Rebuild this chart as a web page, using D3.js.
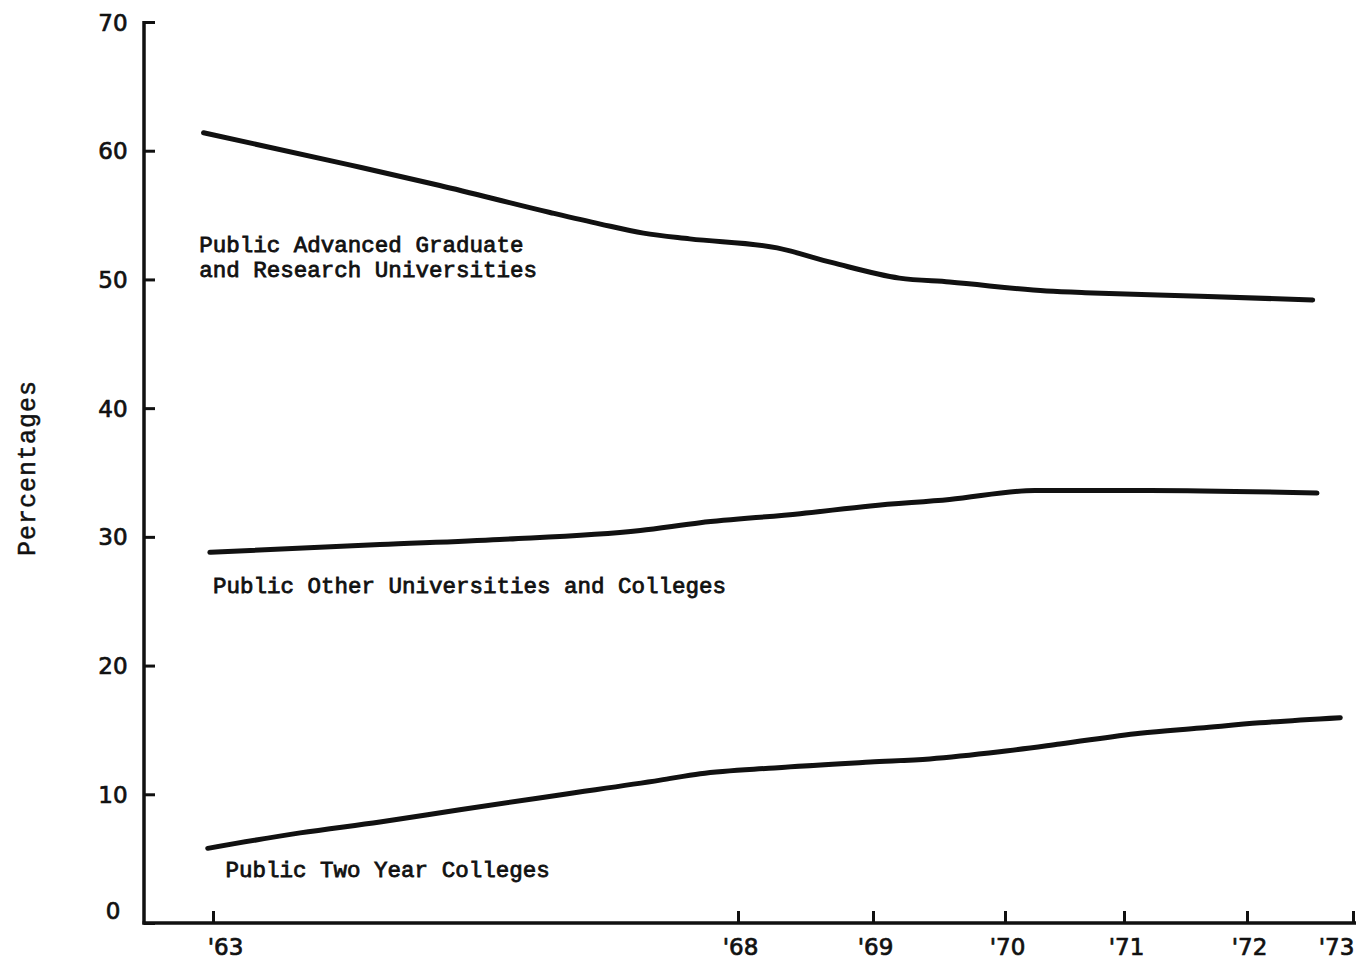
<!DOCTYPE html>
<html>
<head>
<meta charset="utf-8">
<script src="https://cdn.jsdelivr.net/npm/d3@7/dist/d3.min.js"></script>
<style>
  html, body { margin: 0; padding: 0; background: #fff; }
  svg { display: block; }
</style>
</head>
<body>
<svg id="chart" width="1360" height="959"></svg>
<script>
// ---------------- DATA ----------------
const yearTicks = [63, 68, 69, 70, 71, 72, 73];
const yearTickLabels = ["'63", "'68", "'69", "'70", "'71", "'72", "'73"];
const valueTicks = [0, 10, 20, 30, 40, 50, 60, 70];

// Public Advanced Graduate and Research Universities
const advYears  = [62.91, 64.30, 65.16, 66.21, 66.69, 67.10, 67.54, 68.29, 68.70, 69.20, 69.58, 70.35, 70.74, 71.62, 72.62];
const advValues = [61.4, 58.9, 57.3, 55.2, 54.3, 53.6, 53.15, 52.45, 51.3, 50.1, 49.8, 49.1, 48.95, 48.7, 48.4];

// Public Other Universities and Colleges
const othYears  = [62.97, 64.59, 65.73, 67.07, 67.64, 68.46, 68.98, 69.58, 70.25, 71.21, 72.66];
const othValues = [28.8, 29.4, 29.8, 30.5, 31.1, 31.8, 32.4, 32.9, 33.6, 33.6, 33.4];

// Public Two Year Colleges
const twoYears  = [62.95, 63.83, 64.59, 65.35, 66.30, 67.26, 67.64, 68.27, 68.98, 69.43, 69.96, 70.46, 71.13, 71.62, 72.12, 72.88];
const twoValues = [5.8, 7.0, 7.85, 8.8, 9.95, 11.1, 11.6, 12.05, 12.5, 12.75, 13.3, 13.9, 14.75, 15.15, 15.55, 15.95];

const seriesNames = [
  ["Public Advanced Graduate", "and Research Universities"],
  ["Public Other Universities and Colleges"],
  ["Public Two Year Colleges"]
];
const yAxisTitle = "Percentages";

// ---------------- LAYOUT ----------------
const axisX = 144, axisY = 923, axisTop = 22, axisRight = 1356;
// hand-drawn (uneven) year spacing of the original graph
const yearPixelStops = [213, 738, 873, 1005, 1124, 1247, 1353];

const svg = d3.select("#chart");

const x = d3.scaleLinear().domain(yearTicks).range(yearPixelStops);
const y = d3.scaleLinear().domain([0, 70]).range([axisY, axisTop]);

const ink = "#111";
const typeFont = "'Liberation Mono', 'DejaVu Sans Mono', monospace";
const digitFont = "'DejaVu Sans', sans-serif";

// y axis
const yAxis = svg.append("g")
  .attr("transform", `translate(${axisX},0)`)
  .call(d3.axisLeft(y).tickValues(valueTicks).tickSize(-11).tickSizeOuter(0).tickPadding(0).tickFormat(d3.format("d")));
yAxis.select(".domain").remove();
yAxis.selectAll(".tick line").attr("stroke", ink).attr("stroke-width", 3);
yAxis.selectAll(".tick text")
  .attr("x", -31)
  .attr("dy", d => d === 0 ? "-0.2em" : "0.35em")
  .attr("text-anchor", "middle")
  .attr("fill", ink)
  .attr("stroke", ink)
  .attr("stroke-width", 0.7)
  .style("font-family", digitFont)
  .style("font-size", "23px");

// x axis
const xAxis = svg.append("g")
  .attr("transform", `translate(0,${axisY})`)
  .call(d3.axisBottom(x).tickValues(yearTicks).tickSize(-12).tickSizeOuter(0).tickPadding(0)
        .tickFormat((d, i) => yearTickLabels[i]));
xAxis.select(".domain").remove();
xAxis.selectAll(".tick line").attr("stroke", ink).attr("stroke-width", 3);
xAxis.selectAll(".tick text")
  .attr("y", 32)
  .attr("dx", (d, i) => i === 0 ? 12 : (i === yearTicks.length - 1 ? -17 : 2))
  .attr("dy", 0)
  .attr("text-anchor", "middle")
  .attr("fill", ink)
  .attr("stroke", ink)
  .attr("stroke-width", 0.7)
  .style("font-family", digitFont)
  .style("font-size", "23px");

// axis lines
svg.append("line").attr("x1", axisX).attr("x2", axisX).attr("y1", axisTop - 1).attr("y2", axisY + 1.5)
  .attr("stroke", ink).attr("stroke-width", 3.5);
svg.append("line").attr("x1", axisX - 1.5).attr("x2", axisRight).attr("y1", axisY).attr("y2", axisY)
  .attr("stroke", ink).attr("stroke-width", 3.5);

// lines
const line = d3.line().x(d => x(d[0])).y(d => y(d[1])).curve(d3.curveMonotoneX);
const series = [
  d3.zip(advYears, advValues),
  d3.zip(othYears, othValues),
  d3.zip(twoYears, twoValues)
];
svg.append("g").selectAll("path").data(series).join("path")
  .attr("d", line)
  .attr("fill", "none")
  .attr("stroke", ink)
  .attr("stroke-width", 5)
  .attr("stroke-linecap", "round")
  .attr("stroke-linejoin", "round");

// series labels
const labelAnchors = [
  { x: x(62.87), y: 252 },
  { x: x(63.0), y: 593 },
  { x: x(63.12), y: 877 }
];
seriesNames.forEach((lines, i) => {
  const t = svg.append("text")
    .attr("x", labelAnchors[i].x)
    .attr("y", labelAnchors[i].y)
    .attr("fill", ink)
    .attr("stroke", ink)
    .attr("stroke-width", 0.8)
    .style("font-family", typeFont)
    .style("font-size", "22.5px");
  lines.forEach((s, j) => {
    t.append("tspan").attr("x", labelAnchors[i].x).attr("dy", j === 0 ? 0 : 25).text(s);
  });
});

// y axis title
svg.append("text")
  .attr("transform", `translate(35,${(380 + 556) / 2}) rotate(-90)`)
  .attr("text-anchor", "middle")
  .attr("fill", ink)
  .attr("stroke", ink)
  .attr("stroke-width", 0.5)
  .style("font-family", typeFont)
  .style("font-size", "25px")
  .style("letter-spacing", "1px")
  .text(yAxisTitle);
</script>
</body>
</html>
